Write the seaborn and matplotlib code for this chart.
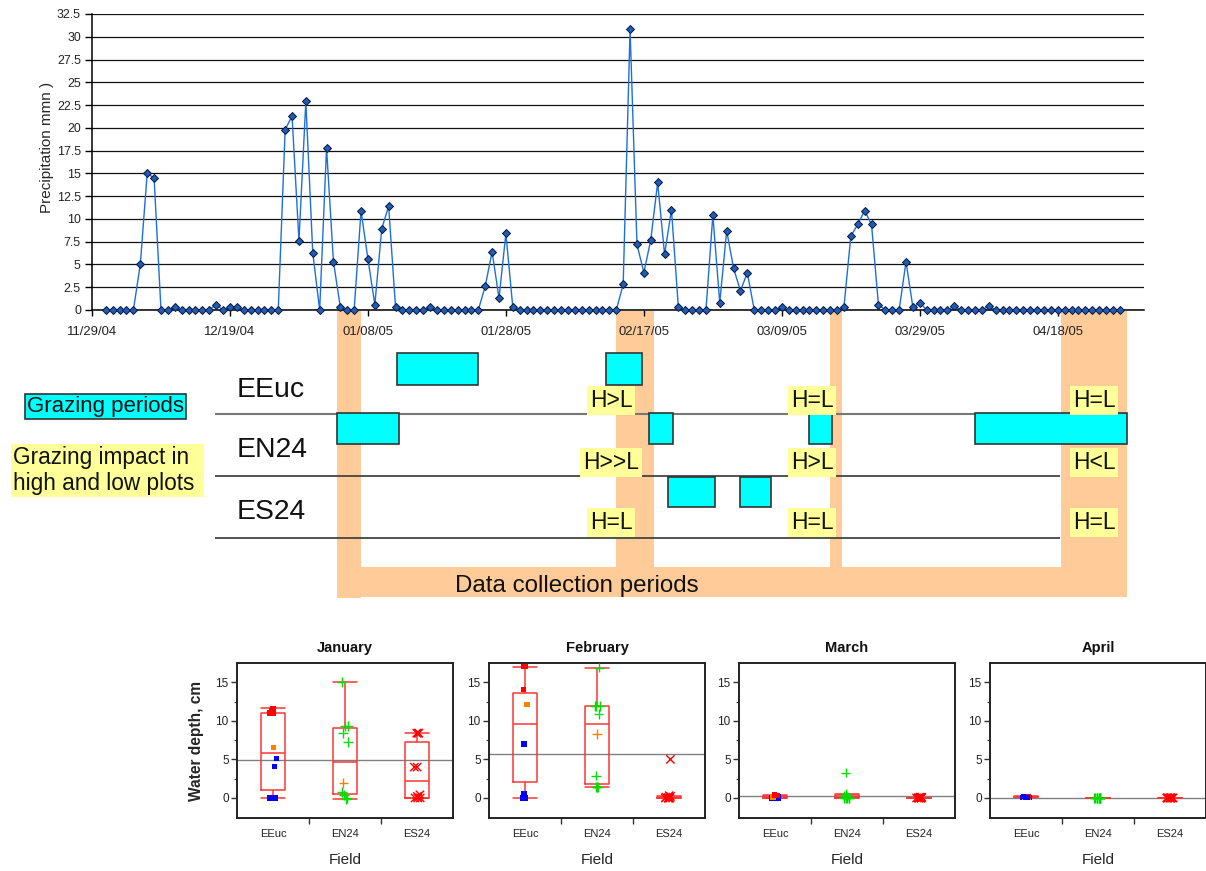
import numpy as np
import pandas as pd
import matplotlib
matplotlib.use("Agg")
import matplotlib.pyplot as plt
from matplotlib import font_manager
from matplotlib.ticker import FixedLocator, FuncFormatter
import seaborn as sns

# ------------------------------------------------------------------ data
# daily precipitation, 12/01/04 .. 04/27/05
first_day = "2004-12-01"
precip = [
    0, 0, 0, 0, 0, 5.0, 15.0, 14.5, 0, 0,
    0.3, 0, 0, 0, 0, 0, 0.6, 0, 0.3, 0.3,
    0, 0, 0, 0, 0, 0, 19.8, 21.3, 7.6, 22.9,
    6.3, 0, 17.8, 5.3, 0.3, 0, 0, 10.9, 5.6, 0.6,
    8.9, 11.4, 0.3, 0, 0, 0, 0, 0.3, 0, 0,
    0, 0, 0, 0, 0, 2.6, 6.4, 1.3, 8.4, 0.3,
    0, 0, 0, 0, 0, 0, 0, 0, 0, 0,
    0, 0, 0, 0, 0, 2.8, 30.8, 7.2, 4.1, 7.7,
    14.0, 6.1, 11.0, 0.3, 0, 0, 0, 0, 10.4, 0.8,
    8.7, 4.6, 2.1, 4.1, 0, 0, 0, 0, 0.3, 0,
    0, 0, 0, 0, 0, 0, 0, 0.3, 8.1, 9.4,
    10.9, 9.4, 0.6, 0, 0, 0, 5.3, 0.3, 0.8, 0,
    0, 0, 0, 0.4, 0, 0, 0, 0, 0.4, 0,
    0, 0, 0, 0, 0, 0, 0, 0, 0, 0,
    0, 0, 0, 0, 0, 0, 0, 0,
]
axis_start = "2004-11-29"
tick_dates = ["2004-11-29", "2004-12-19", "2005-01-08", "2005-01-28",
              "2005-02-17", "2005-03-09", "2005-03-29", "2005-04-18"]
y_ticks_precip = [0, 2.5, 5, 7.5, 10, 12.5, 15, 17.5, 20, 22.5, 25, 27.5, 30, 32.5]

fields = ["EEuc", "EN24", "ES24"]

# grazing periods (start, end) per field
graze_eeuc = [("2005-01-12 06:00", "2005-01-24"), ("2005-02-11 12:00", "2005-02-16 18:00")]
graze_en24 = [("2005-01-03 12:00", "2005-01-12 12:00"), ("2005-02-17 18:00", "2005-02-21 06:00"),
              ("2005-03-13", "2005-03-16 06:00"), ("2005-04-06", "2005-04-28")]
graze_es24 = [("2005-02-20 12:00", "2005-02-27 06:00"), ("2005-03-03", "2005-03-07 12:00")]

# data collection periods
collect_periods = [("2005-01-03 12:00", "2005-01-07"), ("2005-02-13", "2005-02-18 12:00"),
                   ("2005-03-16", "2005-03-17 18:00"), ("2005-04-18 10:00", "2005-04-28")]

# grazing impact, high vs low plots, per collection period
impact_eeuc = ["H>L", "H=L", "H=L"]
impact_en24 = ["H>>L", "H>L", "H<L"]
impact_es24 = ["H=L", "H=L", "H=L"]

# water depth (cm) per month and field, with colour group of each point
months = ["January", "February", "March", "April"]
jan_eeuc = [0, 0, 0, 4.1, 5.1, 6.5, 11.0, 11.0, 11.3, 11.6]
jan_eeuc_grp = ["B", "B", "B", "B", "B", "O", "R", "R", "R", "R"]
jan_en24 = [-0.1, 0, 0.4, 0.8, 1.9, 7.3, 8.4, 9.3, 9.3, 15.0]
jan_en24_grp = ["G", "G", "G", "G", "O", "G", "G", "G", "G", "G"]
jan_es24 = [0, 0, 0, 0.2, 0.4, 4.0, 4.0, 8.4, 8.4, 8.4]
feb_eeuc = [0, 0, 0.5, 7.0, 7.0, 12.1, 12.1, 14.1, 17.0, 17.0]
feb_eeuc_grp = ["B", "B", "B", "B", "B", "O", "O", "R", "R", "R"]
feb_en24 = [1.4, 1.4, 1.4, 2.9, 8.3, 10.9, 11.9, 11.9, 11.9, 16.9]
feb_en24_grp = ["G", "G", "G", "G", "O", "G", "G", "G", "G", "G"]
feb_es24 = [0, 0, 0, 0, 0, 0, 0.1, 0.2, 0.3, 5.0]
mar_eeuc = [0, 0, 0, 0, 0, 0.1, 0.2, 0.2, 0.3, 0.4]
mar_eeuc_grp = ["B", "B", "B", "B", "B", "O", "B", "B", "R", "R"]
mar_en24 = [0, 0, 0, 0, 0, 0.2, 0.3, 0.4, 0.5, 3.3]
mar_es24 = [0, 0, 0, 0, 0, 0, 0, 0, 0.1, 0.1]
apr_eeuc = [0.1, 0.1, 0.1, 0.1, 0.1, 0.1, 0.2, 0.2, 0.2, 0.1]
apr_eeuc_grp = ["B", "B", "B", "O", "O", "B", "R", "R", "B", "B"]
apr_en24 = [0, 0, 0, 0, 0, 0, 0, 0, 0, 0]
apr_es24 = [0, 0, 0, 0, 0, 0, 0, 0, 0, 0]

# ------------------------------------------------------------------ style
sns.set_style("ticks")
names = {f.name for f in font_manager.fontManager.ttflist}
if "Liberation Sans Narrow" in names:
    NARROW, K = "Liberation Sans Narrow", 1.0
else:
    NARROW, K = "Liberation Sans", 0.89   # no narrow face: shrink to keep the widths
plt.rcParams["font.family"] = ["Liberation Sans", "DejaVu Sans"]
plt.rcParams["text.color"] = "#111111"

W, H = 1206, 871
fig = plt.figure(figsize=(W / 100, H / 100), dpi=100)


def fax(l, t, r, b):
    return fig.add_axes([l / W, 1 - b / H, (r - l) / W, (b - t) / H])


origin = pd.Timestamp(axis_start)
X_END = 152.5
PX_DAY = (1144 - 92) / X_END


def day(s):
    return (pd.Timestamp(s) - origin).total_seconds() / 86400


def px2d(px):
    return (px - 92) / PX_DAY


# ------------------------------------------------------------------ middle diagram
ax_mid = fax(0, 311, W, 610)
ax_mid.set_xlim(px2d(0), px2d(W))
ax_mid.set_ylim(610, 311)
ax_mid.set_axis_off()

peach = "#ffcc99"
c_start = [day(s) for s, e in collect_periods]
c_end = [day(e) for s, e in collect_periods]
for i, (s, e) in enumerate(zip(c_start, c_end)):
    low = 598 if i == 0 else 567
    ax_mid.bar(s, low - 311, width=e - s, bottom=311, align="edge", color=peach, lw=0, zorder=1)
ax_mid.barh(582, c_end[-1] - c_start[0], left=c_start[0], height=30, color=peach, lw=0, zorder=1)

ax_mid.hlines([414], px2d(215), px2d(1060), colors="#777777", lw=1.5, zorder=2)
ax_mid.hlines([476, 538], px2d(215), px2d(1060), colors="#444444", lw=1.3, zorder=2)

row_rect = [(369, 32), (428, 31), (492, 30)]
row_base = [397, 457, 519]
imp_base = [407, 469, 529]
imp_x = [611, 812, 1094]
for f, periods, impacts, (yc, hh), rb, ib in zip(
        fields, [graze_eeuc, graze_en24, graze_es24],
        [impact_eeuc, impact_en24, impact_es24], row_rect, row_base, imp_base):
    st = [day(s) for s, e in periods]
    en = [day(e) for s, e in periods]
    ax_mid.barh([yc] * len(st), np.subtract(en, st), left=st, height=hh,
                color="#00ffff", edgecolor="#333333", lw=1.2, zorder=3)
    ax_mid.text(px2d(237), rb, f, fontsize=23 * K, family=NARROW, va="baseline", ha="left", zorder=4)
    for lab, xp in zip(impacts, imp_x):
        ax_mid.text(px2d(xp), ib, lab, fontsize=16.5, family=NARROW, ha="center", va="baseline",
                    zorder=5, bbox=dict(boxstyle="square,pad=0.12", fc="#ffff99", ec="none"))

ax_mid.text(px2d(27), 412, "Grazing periods", fontsize=18 * K, family=NARROW, ha="left",
            va="baseline", bbox=dict(boxstyle="square,pad=0.07", fc="#00ffff", ec="#333333", lw=1.2))
ax_mid.text(px2d(13), 446, "Grazing impact in  \nhigh and low plots", fontsize=18.3 * K,
            family=NARROW, ha="left", va="top", linespacing=1.15,
            bbox=dict(boxstyle="square,pad=0.1", fc="#ffff99", ec="none"))
ax_mid.text(px2d(455), 592, "Data collection periods", fontsize=19.5 * K, family=NARROW,
            ha="left", va="baseline", zorder=4)

# ------------------------------------------------------------------ precipitation
ax = fax(92, 14, 1144, 310)
ax.patch.set_alpha(0)
dates = pd.date_range(first_day, periods=len(precip), freq="D")
df_p = pd.DataFrame({"day": (dates - origin).days, "precip": precip})
sns.lineplot(data=df_p, x="day", y="precip", ax=ax, color="#1c70dc", lw=1.0,
             marker="D", markersize=3.6, markerfacecolor="#1f5cb8",
             markeredgecolor="#0b1636", markeredgewidth=0.7, zorder=3, clip_on=False)
ax.set_xlim(0, X_END)
ax.set_ylim(0, 32.5)
ax.yaxis.set_major_locator(FixedLocator(y_ticks_precip))
ax.yaxis.set_major_formatter(FuncFormatter(lambda v, p: f"{v:g}"))
tick_days = [day(t) for t in tick_dates]
ax.set_xticks(tick_days)
ax.set_xticklabels([pd.Timestamp(t).strftime("%m/%d/%y") for t in tick_dates],
                   family=NARROW, fontsize=10.6 * K)
for lab in ax.get_yticklabels():
    lab.set_family(NARROW)
ax.tick_params(axis="y", labelsize=10 * K, length=5, width=1, color="black", pad=3, labelcolor="#222222")
ax.tick_params(axis="x", length=4.5, width=1, color="black", pad=7, labelcolor="#222222")
ax.grid(axis="y", color="#111111", lw=0.9)
ax.set_axisbelow(True)
sns.despine(ax=ax, top=True, right=True)
for sp in ["left", "bottom"]:
    ax.spines[sp].set_color("black")
    ax.spines[sp].set_linewidth(1.1)
ax.set_xlabel("")
ax.set_ylabel("Precipitation mmn )", fontsize=11)
ax.yaxis.set_label_coords(-0.036, 0.55)

# ------------------------------------------------------------------ water depth boxplots
pal = {"R": "#ff0000", "B": "#0000ff", "O": "#ff8000", "G": "#00dd00"}
markers = {"EEuc": "s", "EN24": "+", "ES24": "x"}
sizes = {"EEuc": 3.8, "EN24": 7, "ES24": 6}
edge_w = {"EEuc": 0, "EN24": 1.0, "ES24": 1.0}
month_data = [
    [(jan_eeuc, jan_eeuc_grp), (jan_en24, jan_en24_grp), (jan_es24, ["R"] * len(jan_es24))],
    [(feb_eeuc, feb_eeuc_grp), (feb_en24, feb_en24_grp), (feb_es24, ["R"] * len(feb_es24))],
    [(mar_eeuc, mar_eeuc_grp), (mar_en24, ["G"] * len(mar_en24)), (mar_es24, ["R"] * len(mar_es24))],
    [(apr_eeuc, apr_eeuc_grp), (apr_en24, ["G"] * len(apr_en24)), (apr_es24, ["R"] * len(apr_es24))],
]
BOX_W = 0.32
lefts = [237, 489, 739, 990]
np.random.seed(7)
for i, (month, mdata, lp) in enumerate(zip(months, month_data, lefts)):
    rows = []
    for f, (vals, grps) in zip(fields, mdata):
        for v, g in zip(vals, grps):
            rows.append((f, v, g))
    df = pd.DataFrame(rows, columns=["field", "depth", "grp"])
    bx = fax(lp, 663, lp + 216, 818)
    bx.axhline(df["depth"].mean(), color="#808080", lw=1.0, zorder=0)
    sns.boxplot(data=df, x="field", y="depth", order=fields, ax=bx, fill=False,
                color="#ff3535", width=BOX_W, linewidth=1.1, showfliers=False, whis=1.5)
    # whisker caps as wide as the box
    for ln in bx.lines:
        xs, ys = np.asarray(ln.get_xdata(), float), np.asarray(ln.get_ydata(), float)
        if len(xs) == 2 and ys[0] == ys[1] and 0 < abs(xs[1] - xs[0]) < BOX_W * 0.9:
            c = xs.mean()
            ln.set_xdata([c - BOX_W / 2, c + BOX_W / 2])
    for f in fields:
        sub = df[df["field"] == f]
        sns.stripplot(data=sub, x="field", y="depth", order=fields, hue="grp", palette=pal,
                      marker=markers[f], size=sizes[f], jitter=0.05, linewidth=edge_w[f],
                      legend=False, ax=bx, zorder=4)
    bx.set_xlim(-0.5, 2.5)
    bx.set_ylim(-2.6, 17.5)
    bx.set_yticks([0, 5, 10, 15])
    bx.yaxis.set_minor_locator(FixedLocator([2.5, 7.5, 12.5]))
    bx.xaxis.set_minor_locator(FixedLocator([0.5, 1.5]))
    bx.set_xticks([0, 1, 2])
    bx.set_xticklabels(fields)
    bx.tick_params(axis="x", which="major", length=0, pad=8, labelsize=8, labelcolor="#222222")
    bx.tick_params(axis="x", which="minor", length=4, width=1, color="#333333")
    bx.tick_params(axis="y", which="major", length=4, width=1, labelsize=8.5, pad=2,
                   color="#333333", labelcolor="#222222")
    bx.tick_params(axis="y", which="minor", length=2, width=0.8, color="#333333", left=True)
    for sp in bx.spines.values():
        sp.set_color("#222222")
        sp.set_linewidth(1.4)
    bx.set_title(month, fontsize=10.5, fontweight="bold", pad=8)
    bx.set_xlabel("Field", fontsize=11, labelpad=10)
    if i == 0:
        bx.set_ylabel("Water depth, cm", fontsize=11.2, fontweight="bold", labelpad=8)
    else:
        bx.set_ylabel("")

fig.savefig("out.png", dpi=100)
